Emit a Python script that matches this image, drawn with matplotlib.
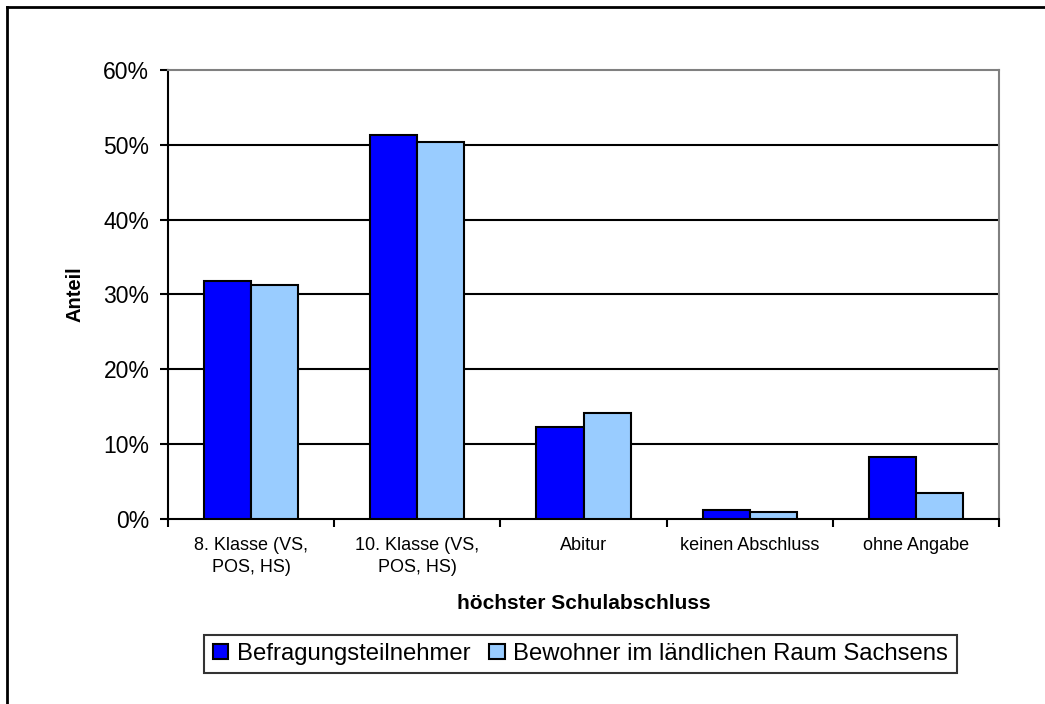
import numpy as np
import matplotlib
matplotlib.use("Agg")
import matplotlib.pyplot as plt
from matplotlib.lines import Line2D
from matplotlib.ticker import PercentFormatter

plt.rcParams['font.family'] = ['Liberation Sans', 'DejaVu Sans']

categories = ["8. Klasse (VS,\nPOS, HS)", "10. Klasse (VS,\nPOS, HS)", "Abitur",
              "keinen Abschluss", "ohne Angabe"]
befragte = [31.8, 51.3, 12.3, 1.2, 8.3]
bewohner = [31.3, 50.4, 14.1, 1.0, 3.5]
series_names = ["Befragungsteilnehmer", "Bewohner im ländlichen Raum Sachsens"]
colors = ['#0000FF', '#99CCFF']

fig = plt.figure(figsize=(10.45, 7.04), dpi=100)
ax = fig.add_axes([0.1608, 0.2628, 0.7952, 0.6378])

x = np.arange(len(categories))
w = 0.283
ax.bar(x - w/2, befragte, w, color=colors[0], edgecolor='black', linewidth=1.5,
       label=series_names[0], zorder=3)
ax.bar(x + w/2, bewohner, w, color=colors[1], edgecolor='black', linewidth=1.5,
       label=series_names[1], zorder=3)

ax.set_xlim(-0.5, len(categories) - 0.5)
ax.set_ylim(0, 60)
ax.set_yticks(np.arange(0, 61, 10))
ax.yaxis.set_major_formatter(PercentFormatter(decimals=0))
for yv in range(10, 60, 10):
    ax.axhline(yv, color='black', linewidth=1.5, zorder=1)

# category labels in the middle, tick marks at the boundaries
ax.set_xticks(np.arange(-0.5, len(categories)), minor=False)
ax.set_xticklabels([])
ax.set_xticks(x, minor=True)
ax.set_xticklabels(categories, minor=True, fontsize=13, linespacing=1.35)
ax.tick_params(axis='x', which='minor', length=0, pad=13)
ax.tick_params(axis='x', which='major', length=6, width=1.5, direction='out')
ax.tick_params(axis='y', length=6, width=1.5, direction='out', labelsize=16.5, pad=7.5)

ax.spines['left'].set_linewidth(1.5)
ax.spines['bottom'].set_linewidth(1.5)
ax.spines['top'].set_color('#808080')
ax.spines['right'].set_color('#808080')
ax.spines['top'].set_linewidth(1.5)
ax.spines['right'].set_linewidth(1.5)

ax.set_ylabel("Anteil", fontsize=14.5, fontweight='bold')
ax.yaxis.set_label_coords(-0.10, 0.5)
ax.set_xlabel("höchster Schulabschluss", fontsize=15, fontweight='bold')
ax.xaxis.set_label_coords(0.5, -0.168)

leg = fig.legend(loc='center', bbox_to_anchor=(580.5/1045, 1 - 654/704), ncol=2,
                 fontsize=17.2, frameon=True, fancybox=False, edgecolor='black',
                 handlelength=0.65, handleheight=0.6, handletextpad=0.35,
                 columnspacing=0.8, borderpad=0.35, borderaxespad=0)
leg.get_frame().set_linewidth(1.5)

# outer chart border (cut off at right and bottom)
fig.add_artist(Line2D([7/1045, 7/1045], [0, 1 - 7/704], color='black', linewidth=2,
                      transform=fig.transFigure))
fig.add_artist(Line2D([7/1045, 1], [1 - 7/704, 1 - 7/704], color='black', linewidth=2,
                      transform=fig.transFigure))

fig.savefig("out.png", dpi=100)
